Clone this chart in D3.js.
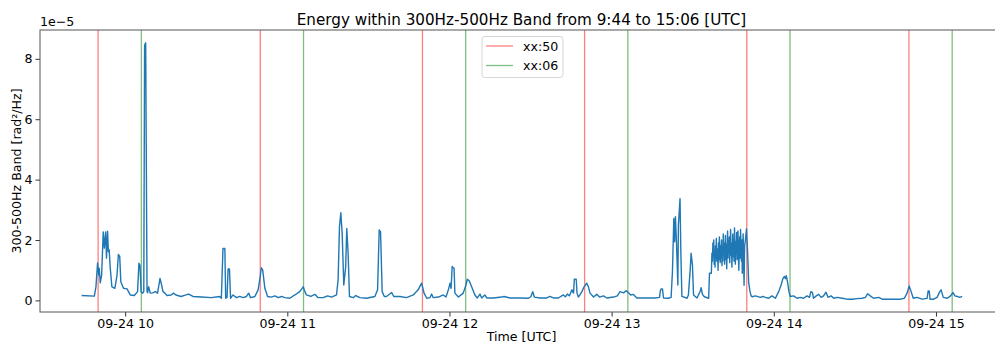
<!DOCTYPE html>
<html><head><meta charset="utf-8">
<script src="https://cdn.jsdelivr.net/npm/d3@7"></script>
<style>body{margin:0;background:#fff} text{font-family:"DejaVu Sans",sans-serif;fill:#000}</style>
</head><body><svg id="c" width="995" height="345"></svg>
<script>
// time in minutes after 09:00 UTC on 09-24, energy in units of 1e-5 rad²/Hz
const minutesAfter9 = [
43.9,48.6,49.2,49.8,50.2,50.4,50.8,51.3,51.9,52.3,52.8,53.1,53.5,53.8,54.1,54.5,55.1,56.2,57.0,57.5,58.0,58.4,59.4,60.7,61.9,63.4,64.6,65.1,65.5,65.9,66.5,66.9,67.2,67.6,68.1,68.3,68.7,69.3,70.2,71.2,72.0,72.9,73.5,74.0,74.7,75.5,77.0,77.9,78.8,80.7,82.5,83.5,85.1,88.2,91.9,95.0,95.6,96.2,96.9,97.2,97.7,98.1,98.6,99.0,99.9,101.2,102.4,103.6,104.9,105.7,106.4,108.0,109.2,109.8,110.4,110.9,111.7,112.7,114.1,115.4,116.6,117.9,119.1,120.9,122.8,124.6,125.9,126.5,127.1,128.7,130.2,131.4,133.3,134.9,136.4,138.2,138.8,139.3,139.8,140.3,140.9,141.6,142.0,142.5,143.0,144.4,145.3,146.9,149.3,152.4,153.4,154.0,154.5,155.1,155.9,156.7,158.6,159.4,161.7,164.1,166.6,168.4,169.7,170.6,171.6,172.8,173.4,174.0,175.9,177.7,178.7,179.6,180.2,180.6,181.0,181.7,182.0,183.3,185.1,186.1,186.6,187.3,188.2,189.4,190.3,191.3,191.9,193.1,193.8,196.2,199.3,200.2,202.4,206.1,209.2,210.1,210.8,211.4,213.5,216.0,217.2,218.4,220.3,222.1,222.9,223.6,224.4,225.3,225.9,226.2,226.9,227.2,227.7,229.0,229.8,230.8,231.4,232.0,233.3,234.5,235.5,237.0,238.2,240.7,242.1,243.1,244.4,245.4,246.2,247.1,248.0,249.3,253.0,256.1,257.7,258.0,258.3,258.8,259.2,261.0,262.0,262.5,263.0,263.3,263.6,264.0,264.5,264.7,265.3,265.6,266.0,267.9,268.4,269.1,269.4,269.9,270.3,271.6,272.8,273.1,273.6,274.3,275.9,276.2,276.9,277.1,
277.3,277.46,277.62,277.78,277.94,278.1,278.26,278.42,278.58,278.74,278.9,279.06,279.22,279.38,279.54,279.7,279.86,280.02,280.18,280.34,280.5,280.66,280.82,280.98,281.14,281.3,281.46,281.62,281.78,281.94,282.1,282.26,282.42,282.58,282.74,282.9,283.06,283.22,283.38,283.54,283.7,283.86,284.02,284.18,284.34,284.5,284.66,284.82,284.98,285.14,285.3,285.46,285.62,285.78,285.94,286.1,286.26,286.42,286.58,286.74,286.9,287.06,287.22,287.38,287.54,287.7,287.86,288.02,288.18,288.34,288.5,288.66,
289.0,289.2,289.5,289.9,290.3,290.7,291.2,291.6,292.0,293.2,295.0,
296.0,296.9,298.1,299.3,300.6,301.8,302.7,303.4,303.9,304.3,304.6,305.1,305.6,306.1,307.3,308.6,309.8,311.0,312.3,313.2,313.7,314.3,314.7,315.7,316.6,317.5,318.4,319.3,320.1,321.2,322.2,323.4,325.3,327.1,329.0,330.8,332.7,333.9,334.7,335.7,336.9,338.8,340.1,341.9,344.4,346.9,348.3,349.3,350.1,350.8,351.6,353.0,354.9,356.1,356.7,357.1,357.5,357.8,359.2,360.4,361.4,361.9,362.7,364.2,365.4,366.3,367.0,367.9,368.8,369.7
];
const energyE5 = [
0.16,0.14,0.45,1.24,0.84,1.07,0.58,0.84,2.27,1.73,2.27,1.40,2.29,1.61,1.67,1.06,0.45,0.40,0.84,1.52,1.45,0.62,0.40,0.38,0.18,0.16,0.29,1.23,1.17,0.29,0.24,0.30,8.45,8.53,0.30,0.25,0.45,0.24,0.25,0.29,0.24,0.73,0.51,0.29,0.24,0.16,0.18,0.24,0.18,0.13,0.18,0.21,0.13,0.11,0.09,0.13,0.07,1.72,1.72,0.07,0.10,1.04,1.04,0.07,0.18,0.09,0.13,0.09,0.13,0.24,0.09,0.13,0.35,0.68,1.08,1.00,0.40,0.13,0.11,0.15,0.09,0.13,0.09,0.07,0.18,0.29,0.45,0.29,0.18,0.13,0.20,0.09,0.09,0.15,0.11,0.18,0.68,2.44,2.90,2.22,0.51,1.12,2.38,1.56,0.13,0.09,0.16,0.09,0.07,0.13,0.35,2.33,2.27,0.29,0.13,0.13,0.26,0.13,0.13,0.09,0.18,0.35,0.57,0.24,0.07,0.09,0.21,0.09,0.11,0.18,0.11,0.35,0.57,0.40,1.12,1.06,0.24,0.11,0.24,0.51,0.70,0.65,0.45,0.18,0.08,0.21,0.08,0.18,0.08,0.08,0.11,0.13,0.08,0.08,0.07,0.12,0.29,0.11,0.08,0.08,0.13,0.08,0.08,0.18,0.12,0.21,0.15,0.35,0.24,0.70,0.70,0.24,0.11,0.29,0.45,0.57,0.45,0.24,0.11,0.20,0.11,0.15,0.08,0.11,0.15,0.29,0.25,0.32,0.25,0.18,0.20,0.08,0.08,0.08,0.10,0.30,0.38,0.38,0.08,0.07,0.10,0.95,2.71,1.94,2.77,1.89,0.51,2.49,3.37,1.61,0.13,0.07,0.18,1.06,1.56,1.17,0.18,0.08,0.31,0.42,0.20,0.12,0.07,0.90,0.90,1.56,
1.3,1.9,1.5,2.0,1.2,1.6,1.1,1.8,1.4,2.05,1.3,1.7,1.55,1.0,1.9,1.35,2.1,1.6,1.25,1.8,1.45,2.0,1.15,1.75,1.3,2.2,1.6,1.9,1.2,1.5,2.15,1.35,1.85,1.05,1.7,2.3,1.4,1.95,1.6,2.1,1.25,1.8,2.35,1.5,1.9,1.1,1.65,2.2,1.45,2.0,1.3,2.4,1.75,1.2,1.95,1.55,2.25,1.35,1.85,2.3,1.5,1.0,1.7,2.1,1.4,2.35,1.8,1.3,2.0,0.9,1.6,2.2,
0.5,1.8,2.0,2.37,1.6,0.6,0.29,0.15,0.12,0.15,0.10,
0.13,0.10,0.07,0.15,0.07,0.29,0.51,0.73,0.79,0.72,0.82,0.60,0.29,0.13,0.15,0.07,0.10,0.07,0.15,0.10,0.29,0.26,0.07,0.15,0.20,0.10,0.15,0.27,0.10,0.15,0.07,0.10,0.07,0.04,0.04,0.06,0.07,0.10,0.22,0.15,0.07,0.10,0.04,0.04,0.04,0.04,0.07,0.24,0.48,0.29,0.07,0.10,0.04,0.06,0.07,0.31,0.31,0.04,0.04,0.10,0.29,0.35,0.10,0.07,0.15,0.26,0.15,0.13,0.10,0.13
];
const lines50 = ["09:50","10:50","11:50","12:50","13:50","14:50"];
const lines06 = ["10:06","11:06","12:06","13:06","14:06","15:06"];
const yTicks = [0,2,4,6,8];
const xDomainClock = ["09:28:30","15:24:48"];
const day = "2023-09-24";

const parse = d3.timeParse("%Y-%m-%d %H:%M:%S");
const parseHM = d3.timeParse("%Y-%m-%d %H:%M");
const base = parseHM(day + " 09:00");
const data = minutesAfter9.map((m,i)=>({t:new Date(+base + m*60000), v:energyE5[i]}));

const svg = d3.select("#c");
const L=40, R=1003, T=30, B=312;
const x = d3.scaleTime().domain(xDomainClock.map(s=>parse(day+" "+s))).range([L,R]);
const ext = d3.extent(energyE5), pad=(ext[1]-ext[0])*0.05;
const y = d3.scaleLinear().domain([ext[0]-pad, ext[1]+pad]).range([B,T]);

svg.append("clipPath").attr("id","clip").append("rect").attr("x",L).attr("y",T).attr("width",R-L).attr("height",B-T);

const g = svg.append("g").attr("clip-path","url(#clip)");
lines50.forEach(s=>{const xv=x(parseHM(day+" "+s));
  g.append("line").attr("x1",xv).attr("x2",xv).attr("y1",T).attr("y2",B).attr("stroke","red").attr("stroke-opacity",0.5).attr("stroke-width",1.3);});
lines06.forEach(s=>{const xv=x(parseHM(day+" "+s));
  g.append("line").attr("x1",xv).attr("x2",xv).attr("y1",T).attr("y2",B).attr("stroke","green").attr("stroke-opacity",0.5).attr("stroke-width",1.3);});

g.append("path").datum(data).attr("fill","none").attr("stroke","#1f77b4").attr("stroke-width",1.4).attr("stroke-linejoin","round")
 .attr("d", d3.line().x(d=>x(d.t)).y(d=>y(d.v)));

// axes
const fs = "12.6px";
const xAxis = d3.axisBottom(x).ticks(d3.timeHour.every(1)).tickFormat(d3.timeFormat("%m-%d %H")).tickSize(4.5).tickPadding(3);
const xg = svg.append("g").attr("transform",`translate(0,${B})`).call(xAxis);
const yAxis = d3.axisLeft(y).tickValues(yTicks).tickFormat(d3.format("d")).tickSize(4.5).tickPadding(3);
const yg = svg.append("g").attr("transform",`translate(${L},0)`).call(yAxis);
[xg,yg].forEach(a=>{a.select(".domain").remove(); a.selectAll("text").style("font-size",fs).style("font-family","DejaVu Sans").attr("fill","#000"); a.selectAll("line").attr("stroke","#333").attr("stroke-width",1);});

const sp = svg.append("g").attr("stroke","#555").attr("stroke-width",1).attr("fill","none");
sp.append("rect").attr("x",L).attr("y",T).attr("width",R-L).attr("height",B-T);

svg.append("text").attr("x",L).attr("y",26).style("font-size",fs).text("1e\u22125");
svg.append("text").attr("x",(L+R)/2).attr("y",25).attr("text-anchor","middle").style("font-size","15.2px").text("Energy within 300Hz-500Hz Band from 9:44 to 15:06 [UTC]");
svg.append("text").attr("x",(L+R)/2).attr("y",341).attr("text-anchor","middle").style("font-size",fs).text("Time [UTC]");
svg.append("text").attr("transform","translate(21,171) rotate(-90)").attr("text-anchor","middle").style("font-size",fs).text("300-500Hz Band [rad²/Hz]");

// legend
const lg = svg.append("g");
lg.append("rect").attr("x",482).attr("y",36.5).attr("width",81).attr("height",41).attr("rx",3).attr("fill","#fff").attr("fill-opacity",0.8).attr("stroke","#d6d6d6");
[["xx:50","red"],["xx:06","green"]].forEach((e,i)=>{
  const yy = 46 + i*19.5;
  lg.append("line").attr("x1",486).attr("x2",513).attr("y1",yy).attr("y2",yy).attr("stroke",e[1]).attr("stroke-opacity",0.5).attr("stroke-width",1.3);
  lg.append("text").attr("x",523).attr("y",yy+4.5).style("font-size",fs).text(e[0]);
});
</script></body></html>
